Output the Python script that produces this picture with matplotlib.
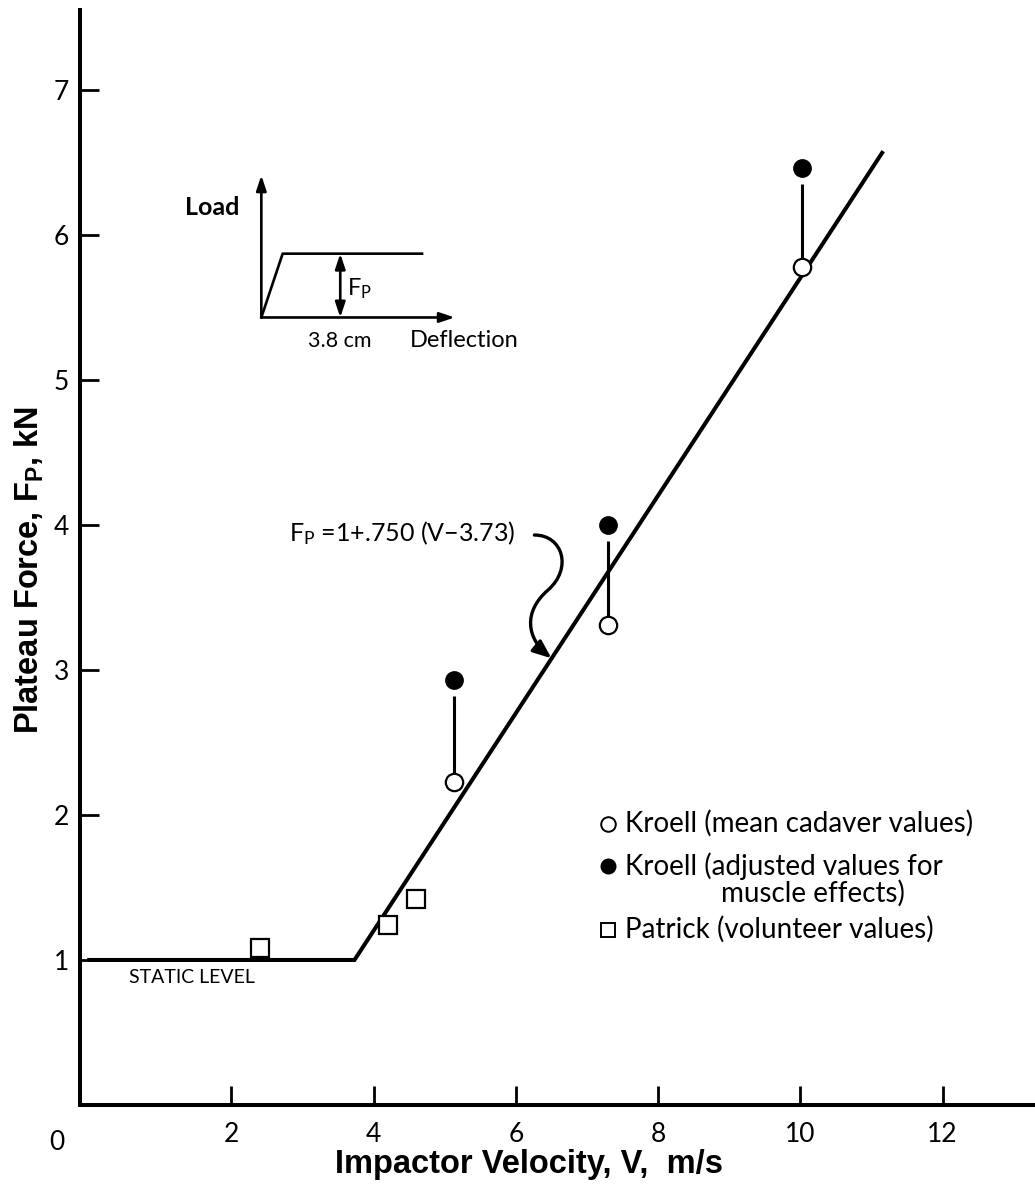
import matplotlib
matplotlib.use("Agg")
import matplotlib.pyplot as plt
from matplotlib.path import Path
from matplotlib.patches import FancyArrowPatch
import numpy as np

plt.rcParams['font.family'] = ['Lato', 'DejaVu Sans']
plt.rcParams['mathtext.fontset'] = 'custom'
plt.rcParams['mathtext.rm'] = 'Lato'
plt.rcParams['mathtext.bf'] = 'Liberation Sans:bold'

# data
kroell_v = [5.13, 7.30, 10.03]
kroell_mean = [2.23, 3.31, 5.78]
kroell_adj = [2.93, 4.00, 6.46]
patrick_v = [2.40, 4.20, 4.60]
patrick_f = [1.08, 1.24, 1.42]

v_knee = 3.73
slope = 0.750
v_end = 11.15
fit_v = [0.0, v_knee, v_end]
fit_f = [1.0, 1.0, 1.0 + slope * (v_end - v_knee)]

fig = plt.figure(figsize=(10.35, 11.84), dpi=100)
ax = fig.add_axes([80 / 1035, 79 / 1184, 955 / 1035, 1095 / 1184])
ax.set_xlim(-0.13, 13.3)
ax.set_ylim(0, 7.55)

for s in ['top', 'right']:
    ax.spines[s].set_visible(False)
for s in ['left', 'bottom']:
    ax.spines[s].set_linewidth(2.9)

ax.set_xticks([2, 4, 6, 8, 10, 12])
ax.set_yticks([1, 2, 3, 4, 5, 6, 7])
ax.tick_params(direction='in', length=14, width=2.0, labelsize=19)
ax.tick_params(axis='x', pad=12)
ax.tick_params(axis='y', pad=8)
ax.text(-0.45, -0.17, '0', fontsize=19, ha='center', va='top')

# axis titles
fig.text(529 / 1035, 1 - 1165 / 1184, 'Impactor Velocity, V,  m/s', fontsize=23.5,
         fontweight='bold', family='Liberation Sans', ha='center', va='center')
fig.text(29 / 1035, 1 - 570 / 1184, r'Plateau Force, $\mathbf{F_P}$, kN', fontsize=23.5,
         fontweight='bold', family='Liberation Sans', ha='center', va='center',
         rotation=90)

# fitted curve
ax.plot(fit_v, fit_f, color='black', lw=2.9, solid_joinstyle='miter', zorder=2)

# stems
ax.vlines(kroell_v, np.array(kroell_mean) + 0.06, np.array(kroell_adj) - 0.11,
          color='black', lw=2.2)
ax.plot(kroell_v, kroell_mean, 'o', ms=12.5, mfc='white', mec='black', mew=1.6, zorder=3)
ax.plot(kroell_v, kroell_adj, 'o', ms=12.5, mfc='black', mec='black', zorder=3)
ax.plot(patrick_v, patrick_f, 's', ms=12.5, mfc='white', mec='black', mew=1.6, zorder=3)

ax.text(0.56, 0.88, 'STATIC LEVEL', fontsize=14, va='center', ha='left')

# equation with S-shaped arrow
ax.text(2.81, 3.94, r'$\mathrm{F_P}$ =1+.750 (V−3.73)', fontsize=18, va='center', ha='left')
verts = [(6.26, 3.93), (6.66, 3.93), (6.80, 3.70), (6.45, 3.55),
         (6.10, 3.40), (6.15, 3.22), (6.50, 3.08)]
codes = [Path.MOVETO] + [Path.CURVE4] * 6
arr = FancyArrowPatch(path=Path(verts, codes), arrowstyle='-|>,head_length=11,head_width=4.5',
                      color='black', lw=2.4)
ax.add_patch(arr)

# inset sketch of load-deflection curve
ox, oy = 2.42, 5.43
hd = dict(arrowstyle='-|>,head_length=0.9,head_width=0.3', color='black', lw=1.9,
          shrinkA=0, shrinkB=0)
ax.annotate('', xy=(ox, 6.41), xytext=(ox, oy), arrowprops=hd)
ax.annotate('', xy=(5.14, oy), xytext=(ox, oy), arrowprops=hd)
ax.plot([ox, 2.72, 4.68], [oy, 5.87, 5.87], color='black', lw=1.9)
hd2 = dict(arrowstyle='<|-|>,head_length=0.9,head_width=0.3', color='black', lw=1.9,
           shrinkA=0, shrinkB=0)
ax.annotate('', xy=(3.53, 5.87), xytext=(3.53, oy), arrowprops=hd2)
ax.text(3.62, 5.63, r'$\mathrm{F_P}$', fontsize=17, va='center', ha='left')
ax.text(1.73, 6.19, 'Load', fontsize=18, fontweight='bold', va='center', ha='center')
ax.text(3.52, 5.27, '3.8 cm', fontsize=15.5, va='center', ha='center')
ax.text(4.51, 5.27, 'Deflection', fontsize=17, va='center', ha='left')

# legend drawn by hand
lx, tx = 7.29, 7.54
ax.plot([lx], [1.94], 'o', ms=10.5, mfc='white', mec='black', mew=1.4)
ax.text(tx, 1.94, 'Kroell (mean cadaver values)', fontsize=20, va='center', ha='left')
ax.plot([lx], [1.65], 'o', ms=10.5, mfc='black', mec='black')
ax.text(tx, 1.65, 'Kroell (adjusted values for', fontsize=20, va='center', ha='left')
ax.text(8.89, 1.46, 'muscle effects)', fontsize=20, va='center', ha='left')
ax.plot([lx], [1.21], 's', ms=10.5, mfc='white', mec='black', mew=1.4)
ax.text(tx, 1.21, 'Patrick (volunteer values)', fontsize=20, va='center', ha='left')

fig.savefig('out.png', dpi=100)
